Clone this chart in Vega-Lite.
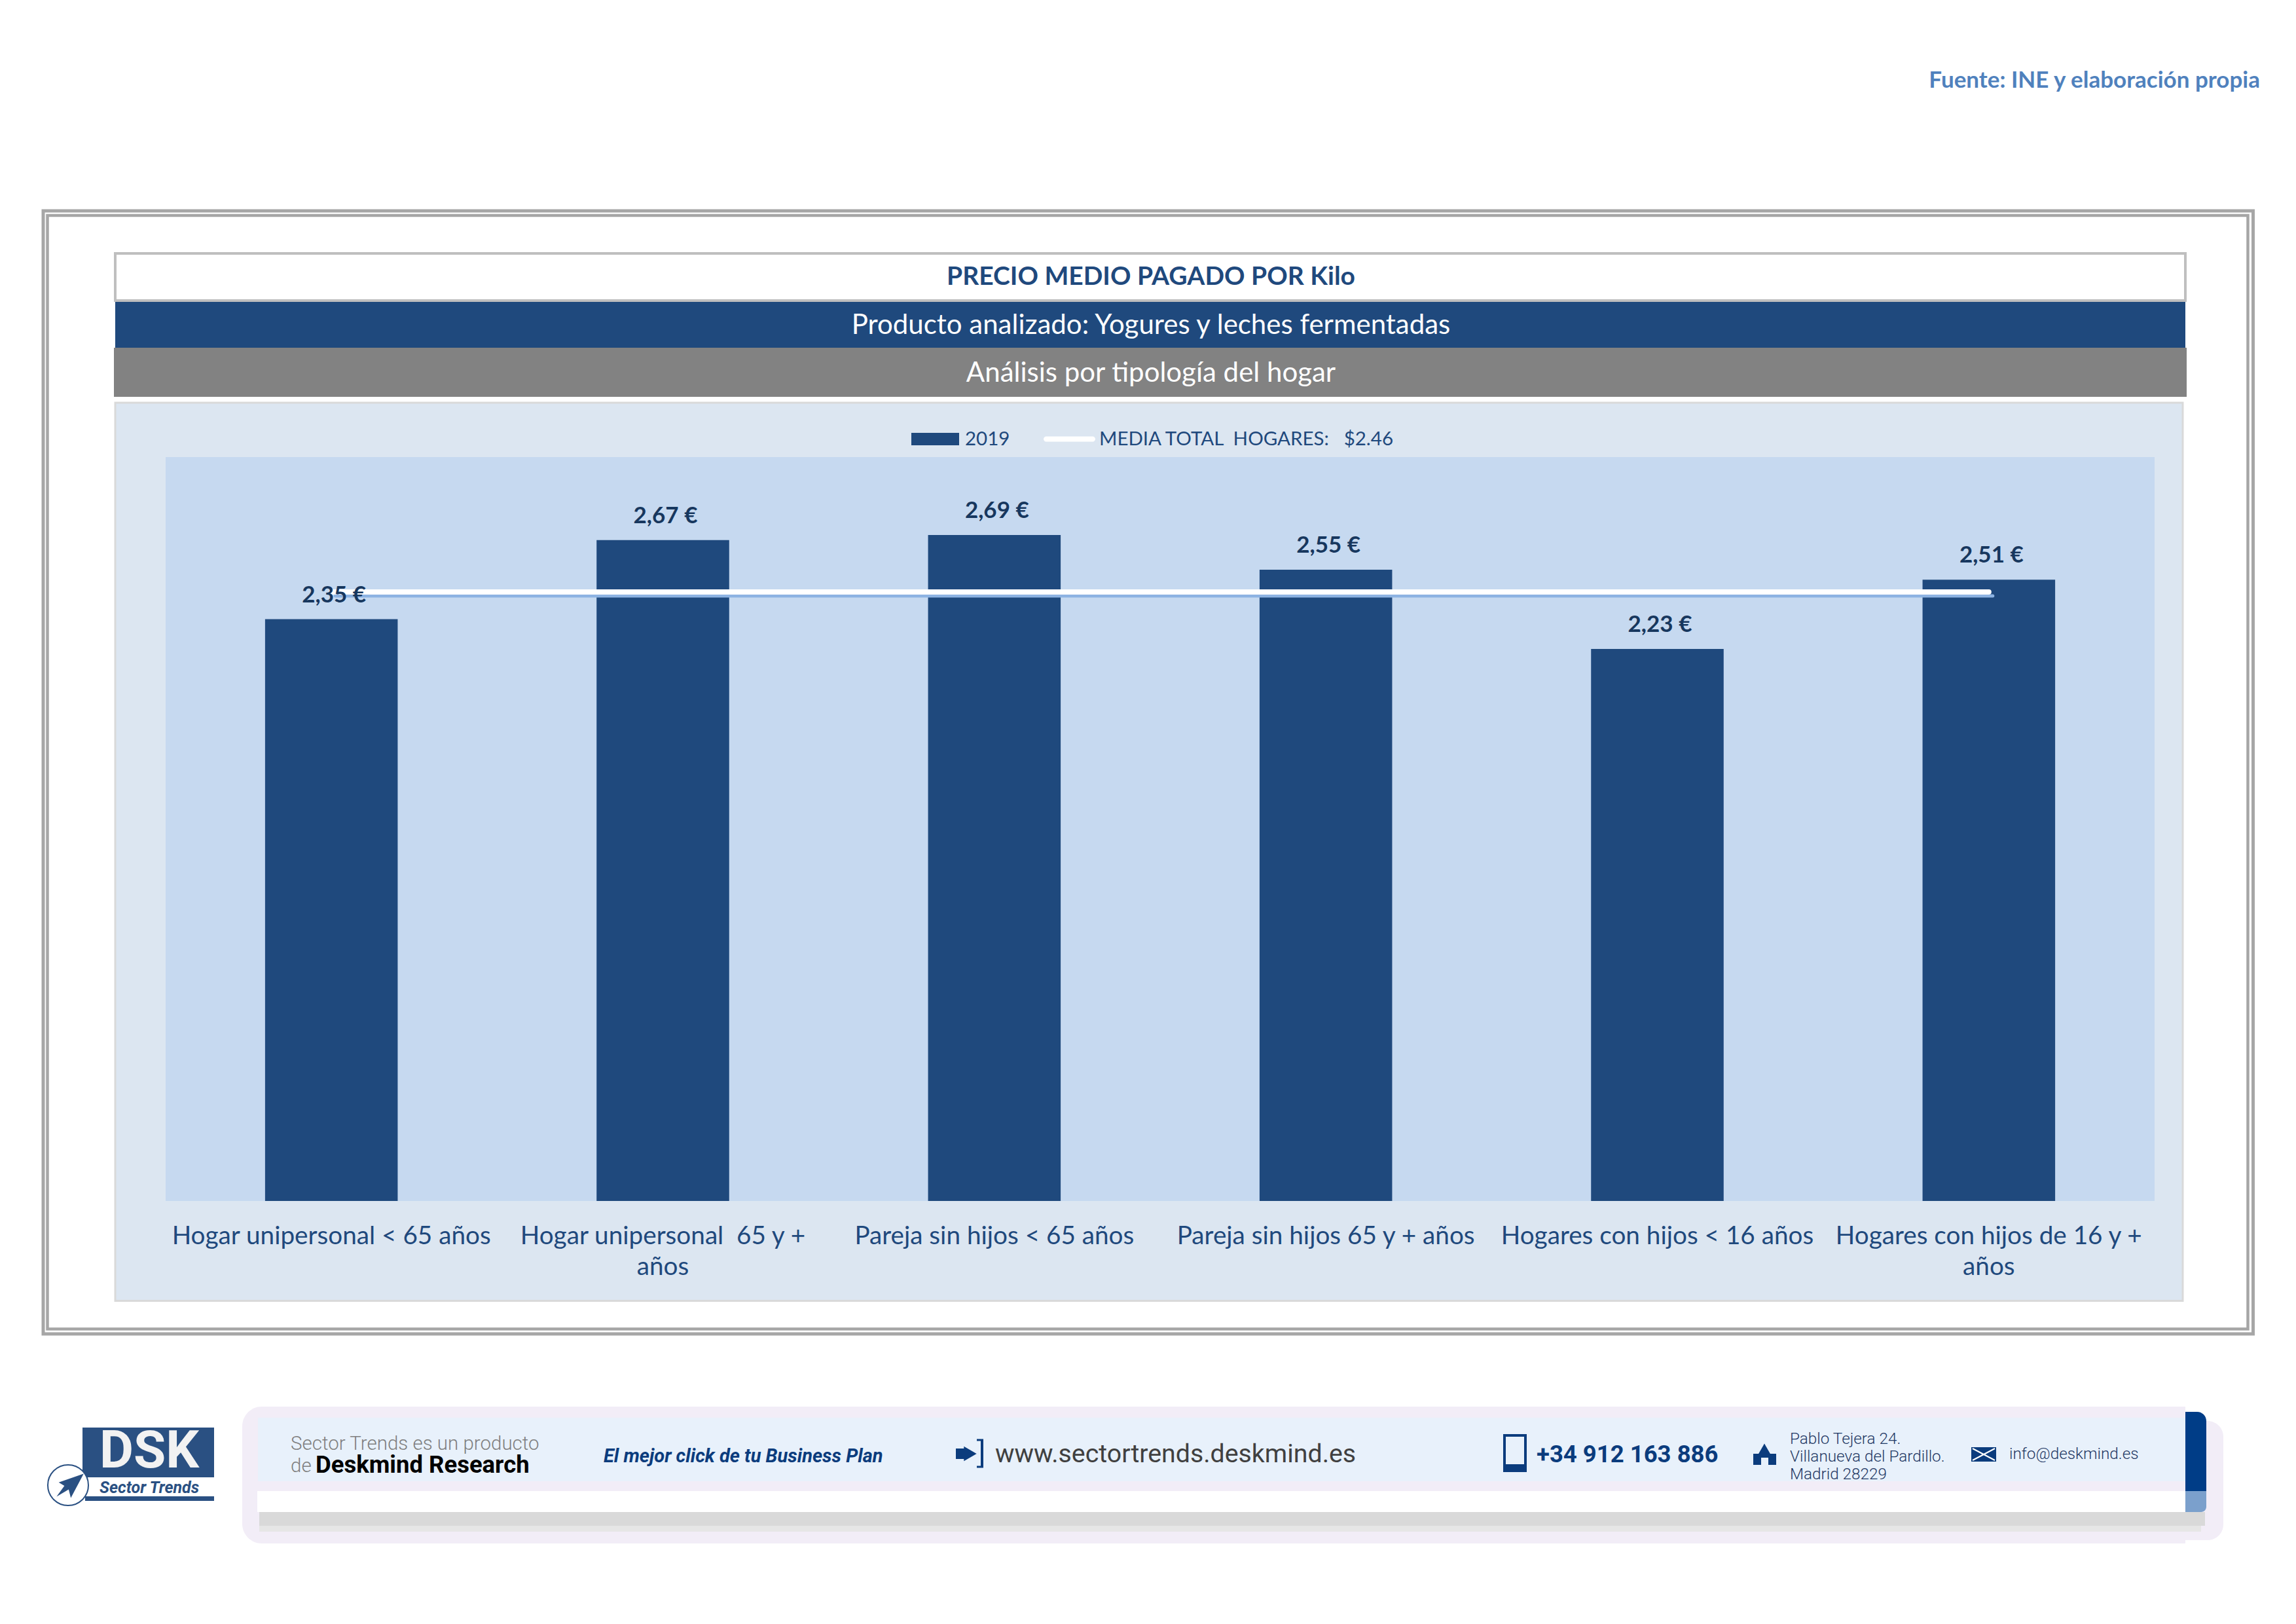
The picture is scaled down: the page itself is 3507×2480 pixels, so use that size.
{
"$schema":"https://vega.github.io/schema/vega-lite/v6.json",
"width":3038,"height":1136,
"autosize":{"type":"none"},
"padding":{"left":253,"top":698,"right":216,"bottom":646},
"background":"#ffffff",
"config":{"view":{"stroke":null}},
"resolve":{"scale":{"x":"independent","y":"independent"}},
"data":{"values":[
{"hogar":"Hogar unipersonal < 65 años","precio":2.35,"etiqueta":"2,35 €","serie":"2019","media":2.46,"serie_media":"MEDIA TOTAL\u00a0\u00a0HOGARES:\u00a0\u00a0\u00a0$2.46"},
{"hogar":"Hogar unipersonal\u00a0\u00a065 y + años","precio":2.67,"etiqueta":"2,67 €","serie":"2019","media":2.46,"serie_media":"MEDIA TOTAL\u00a0\u00a0HOGARES:\u00a0\u00a0\u00a0$2.46"},
{"hogar":"Pareja sin hijos < 65 años","precio":2.69,"etiqueta":"2,69 €","serie":"2019","media":2.46,"serie_media":"MEDIA TOTAL\u00a0\u00a0HOGARES:\u00a0\u00a0\u00a0$2.46"},
{"hogar":"Pareja sin hijos 65 y + años","precio":2.55,"etiqueta":"2,55 €","serie":"2019","media":2.46,"serie_media":"MEDIA TOTAL\u00a0\u00a0HOGARES:\u00a0\u00a0\u00a0$2.46"},
{"hogar":"Hogares con hijos < 16 años","precio":2.23,"etiqueta":"2,23 €","serie":"2019","media":2.46,"serie_media":"MEDIA TOTAL\u00a0\u00a0HOGARES:\u00a0\u00a0\u00a0$2.46"},
{"hogar":"Hogares con hijos de 16 y + años","precio":2.51,"etiqueta":"2,51 €","serie":"2019","media":2.46,"serie_media":"MEDIA TOTAL\u00a0\u00a0HOGARES:\u00a0\u00a0\u00a0$2.46"}
]},
"layer":[
{"data":{"values":[{}]},
"layer":[
{"mark":{"type":"text","text":"Fuente: INE y elaboración propia","align":"right","baseline":"middle","font":"Lato","fontWeight":"bold","fontSize":35,"color":"#4f81bd"},"encoding":{"x":{"datum":3452,"type":"quantitative","axis":null,"scale":{"domain":[0,3507],"range":[-253,3254],"nice":false,"zero":false}},"y":{"datum":123,"type":"quantitative","axis":null,"scale":{"domain":[0,2480],"range":[-698,1782],"nice":false,"zero":false}}}},
{"mark":{"type":"rect","fill":null,"stroke":"#a6a6a6","strokeWidth":5},"encoding":{"x":{"datum":66,"type":"quantitative"},"x2":{"datum":3441.5},"y":{"datum":322,"type":"quantitative"},"y2":{"datum":2037}}},
{"mark":{"type":"rect","fill":null,"stroke":"#a6a6a6","strokeWidth":4.5},"encoding":{"x":{"datum":72.5,"type":"quantitative"},"x2":{"datum":3433.5},"y":{"datum":329,"type":"quantitative"},"y2":{"datum":2029.5}}},
{"mark":{"type":"rect","fill":"#ffffff","stroke":"#bfbfbf","strokeWidth":4},"encoding":{"x":{"datum":176,"type":"quantitative"},"x2":{"datum":3338},"y":{"datum":387,"type":"quantitative"},"y2":{"datum":459}}},
{"mark":{"type":"rect","fill":"#1f497d"},"encoding":{"x":{"datum":176,"type":"quantitative"},"x2":{"datum":3338},"y":{"datum":461,"type":"quantitative"},"y2":{"datum":531}}},
{"mark":{"type":"rect","fill":"#828282"},"encoding":{"x":{"datum":174,"type":"quantitative"},"x2":{"datum":3340},"y":{"datum":531,"type":"quantitative"},"y2":{"datum":606}}},
{"mark":{"type":"rect","fill":"#dce6f1","stroke":"#d9d9d9","strokeWidth":3},"encoding":{"x":{"datum":176,"type":"quantitative"},"x2":{"datum":3334},"y":{"datum":615,"type":"quantitative"},"y2":{"datum":1986.5}}},
{"mark":{"type":"rect","fill":"#c6d9f0"},"encoding":{"x":{"datum":253,"type":"quantitative"},"x2":{"datum":3291},"y":{"datum":698,"type":"quantitative"},"y2":{"datum":1834}}},
{"mark":{"type":"text","text":"PRECIO MEDIO PAGADO POR Kilo","align":"center","baseline":"middle","font":"Lato","fontWeight":"bold","fontSize":39,"color":"#1f497d"},"encoding":{"x":{"datum":1758,"type":"quantitative"},"y":{"datum":423,"type":"quantitative"}}},
{"mark":{"type":"text","text":"Producto analizado: Yogures y leches fermentadas","align":"center","baseline":"middle","font":"Lato","fontSize":42,"color":"#ffffff"},"encoding":{"x":{"datum":1758,"type":"quantitative"},"y":{"datum":497,"type":"quantitative"}}},
{"mark":{"type":"text","text":"Análisis por tipología del hogar","align":"center","baseline":"middle","font":"Lato","fontSize":42,"color":"#ffffff"},"encoding":{"x":{"datum":1758,"type":"quantitative"},"y":{"datum":570,"type":"quantitative"}}},

{"mark":{"type":"rect","fill":"#f2edf7","cornerRadius":24},"encoding":{"x":{"datum":3300,"type":"quantitative"},"x2":{"datum":3396},"y":{"datum":2170,"type":"quantitative"},"y2":{"datum":2352}}},
{"mark":{"type":"rect","fill":"#f2edf7","cornerRadiusTopLeft":30,"cornerRadiusBottomLeft":30},"encoding":{"x":{"datum":370,"type":"quantitative"},"x2":{"datum":3338},"y":{"datum":2148,"type":"quantitative"},"y2":{"datum":2357}}},
{"mark":{"type":"rect","fill":"#e8f1fb"},"encoding":{"x":{"datum":394,"type":"quantitative"},"x2":{"datum":3338},"y":{"datum":2165,"type":"quantitative"},"y2":{"datum":2262}}},
{"mark":{"type":"rect","fill":"#e6e6e6"},"encoding":{"x":{"datum":396,"type":"quantitative"},"x2":{"datum":3362},"y":{"datum":2320,"type":"quantitative"},"y2":{"datum":2339}}},
{"mark":{"type":"rect","fill":"#d9d9d9"},"encoding":{"x":{"datum":396,"type":"quantitative"},"x2":{"datum":3368},"y":{"datum":2309,"type":"quantitative"},"y2":{"datum":2330}}},
{"mark":{"type":"rect","fill":"#ffffff"},"encoding":{"x":{"datum":393,"type":"quantitative"},"x2":{"datum":3338},"y":{"datum":2277,"type":"quantitative"},"y2":{"datum":2309}}},
{"mark":{"type":"rect","fill":"#7ba0cc","cornerRadiusBottomRight":8},"encoding":{"x":{"datum":3338,"type":"quantitative"},"x2":{"datum":3370},"y":{"datum":2277,"type":"quantitative"},"y2":{"datum":2309}}},
{"mark":{"type":"rect","fill":"#003d87","cornerRadiusTopRight":14},"encoding":{"x":{"datum":3338,"type":"quantitative"},"x2":{"datum":3370},"y":{"datum":2156,"type":"quantitative"},"y2":{"datum":2277}}},

{"mark":{"type":"text","text":"Sector Trends es un producto","align":"left","baseline":"middle","font":"Roboto","fontWeight":300,"fontSize":29.5,"color":"#7f7f7f"},"encoding":{"x":{"datum":444,"type":"quantitative"},"y":{"datum":2205,"type":"quantitative"}}},
{"mark":{"type":"text","text":"de","align":"left","baseline":"middle","font":"Roboto","fontWeight":300,"fontSize":29.5,"color":"#7f7f7f"},"encoding":{"x":{"datum":444,"type":"quantitative"},"y":{"datum":2239,"type":"quantitative"}}},
{"mark":{"type":"text","text":"Deskmind Research","align":"left","baseline":"middle","font":"Roboto","fontWeight":"bold","fontSize":36.5,"color":"#000000"},"encoding":{"x":{"datum":482,"type":"quantitative"},"y":{"datum":2238,"type":"quantitative"}}},
{"mark":{"type":"text","text":"El mejor click de tu Business Plan","align":"left","baseline":"middle","font":"Roboto","fontWeight":"bold","fontStyle":"italic","fontSize":29,"color":"#0b3c7d"},"encoding":{"x":{"datum":922,"type":"quantitative"},"y":{"datum":2224,"type":"quantitative"}}},
{"mark":{"type":"rect","fill":"#0b3c7d"},"encoding":{"x":{"datum":1460,"type":"quantitative"},"x2":{"datum":1478},"y":{"datum":2212,"type":"quantitative"},"y2":{"datum":2228}}},
{"mark":{"type":"point","shape":"triangle-right","filled":true,"size":500,"opacity":1,"color":"#0b3c7d"},"encoding":{"x":{"datum":1482,"type":"quantitative"},"y":{"datum":2220,"type":"quantitative"}}},
{"mark":{"type":"rule","color":"#0b3c7d","strokeWidth":4},"encoding":{"x":{"datum":1500,"type":"quantitative"},"y":{"datum":2199,"type":"quantitative"},"y2":{"datum":2240}}},
{"mark":{"type":"rule","color":"#0b3c7d","strokeWidth":3},"encoding":{"x":{"datum":1492,"type":"quantitative"},"x2":{"datum":1502},"y":{"datum":2199,"type":"quantitative"},"y2":{"datum":2199}}},
{"mark":{"type":"rule","color":"#0b3c7d","strokeWidth":3},"encoding":{"x":{"datum":1492,"type":"quantitative"},"x2":{"datum":1502},"y":{"datum":2240,"type":"quantitative"},"y2":{"datum":2240}}},
{"mark":{"type":"text","text":"www.sectortrends.deskmind.es","align":"left","baseline":"middle","font":"Roboto","fontSize":39.3,"color":"#404040"},"encoding":{"x":{"datum":1520,"type":"quantitative"},"y":{"datum":2221,"type":"quantitative"}}},
{"mark":{"type":"rect","fill":null,"stroke":"#0b3c7d","strokeWidth":4},"encoding":{"x":{"datum":2298,"type":"quantitative"},"x2":{"datum":2330},"y":{"datum":2192,"type":"quantitative"},"y2":{"datum":2246}}},
{"mark":{"type":"rect","fill":"#0b3c7d"},"encoding":{"x":{"datum":2296,"type":"quantitative"},"x2":{"datum":2332},"y":{"datum":2236,"type":"quantitative"},"y2":{"datum":2248}}},
{"mark":{"type":"text","text":"+34 912 163 886","align":"left","baseline":"middle","font":"Roboto","fontWeight":"bold","fontSize":36.5,"color":"#0b3c7d"},"encoding":{"x":{"datum":2347,"type":"quantitative"},"y":{"datum":2222,"type":"quantitative"}}},
{"mark":{"type":"rect","fill":"#0b3c7d"},"encoding":{"x":{"datum":2678,"type":"quantitative"},"x2":{"datum":2713,"type":"quantitative"},"y":{"datum":2220,"type":"quantitative"},"y2":{"datum":2237}}},
{"mark":{"type":"point","shape":"triangle-up","filled":true,"size":700,"opacity":1,"color":"#0b3c7d"},"encoding":{"x":{"datum":2695,"type":"quantitative"},"y":{"datum":2216,"type":"quantitative"}}},
{"mark":{"type":"rect","fill":"#e8f1fb"},"encoding":{"x":{"datum":2690,"type":"quantitative"},"x2":{"datum":2701},"y":{"datum":2226,"type":"quantitative"},"y2":{"datum":2237}}},
{"mark":{"type":"text","text":"Pablo Tejera 24.","align":"left","baseline":"middle","font":"Roboto","fontWeight":300,"fontSize":24.3,"color":"#1f3864"},"encoding":{"x":{"datum":2734,"type":"quantitative"},"y":{"datum":2198,"type":"quantitative"}}},
{"mark":{"type":"text","text":"Villanueva del Pardillo.","align":"left","baseline":"middle","font":"Roboto","fontWeight":300,"fontSize":24.3,"color":"#1f3864"},"encoding":{"x":{"datum":2734,"type":"quantitative"},"y":{"datum":2225,"type":"quantitative"}}},
{"mark":{"type":"text","text":"Madrid 28229","align":"left","baseline":"middle","font":"Roboto","fontWeight":300,"fontSize":24.3,"color":"#1f3864"},"encoding":{"x":{"datum":2734,"type":"quantitative"},"y":{"datum":2252,"type":"quantitative"}}},
{"mark":{"type":"rect","fill":"#0b3c7d"},"encoding":{"x":{"datum":3011,"type":"quantitative"},"x2":{"datum":3049},"y":{"datum":2210,"type":"quantitative"},"y2":{"datum":2232}}},
{"mark":{"type":"rule","color":"#ffffff","strokeWidth":2},"encoding":{"x":{"datum":3013,"type":"quantitative"},"x2":{"datum":3047},"y":{"datum":2212,"type":"quantitative"},"y2":{"datum":2230}}},
{"mark":{"type":"rule","color":"#ffffff","strokeWidth":2},"encoding":{"x":{"datum":3047,"type":"quantitative"},"x2":{"datum":3013},"y":{"datum":2212,"type":"quantitative"},"y2":{"datum":2230}}},
{"mark":{"type":"text","text":"info@deskmind.es","align":"left","baseline":"middle","font":"Roboto","fontWeight":300,"fontSize":24.3,"color":"#1f3864"},"encoding":{"x":{"datum":3069,"type":"quantitative"},"y":{"datum":2221,"type":"quantitative"}}},

{"mark":{"type":"rect","fill":"#2a5082"},"encoding":{"x":{"datum":126,"type":"quantitative"},"x2":{"datum":327},"y":{"datum":2180,"type":"quantitative"},"y2":{"datum":2256}}},
{"mark":{"type":"text","text":"DSK","align":"center","baseline":"middle","font":"Roboto","fontWeight":"bold","fontSize":80,"color":"#f2f2f2"},"encoding":{"x":{"datum":228,"type":"quantitative"},"y":{"datum":2217,"type":"quantitative"}}},
{"mark":{"type":"text","text":"Sector Trends","align":"left","baseline":"middle","font":"Roboto","fontWeight":"bold","fontStyle":"italic","fontSize":25,"color":"#2a5082"},"encoding":{"x":{"datum":152,"type":"quantitative"},"y":{"datum":2272,"type":"quantitative"}}},
{"mark":{"type":"rect","fill":"#2a5082"},"encoding":{"x":{"datum":130,"type":"quantitative"},"x2":{"datum":327},"y":{"datum":2285,"type":"quantitative"},"y2":{"datum":2292}}},
{"mark":{"type":"point","shape":"circle","filled":true,"size":3844,"opacity":1,"fill":"#ffffff","stroke":"#2a5082","strokeWidth":2},"encoding":{"x":{"datum":104,"type":"quantitative"},"y":{"datum":2268,"type":"quantitative"}}},
{"mark":{"type":"point","shape":"M1,-0.8 L0.1,0.9 L-0.05,0.3 L-0.9,0.8 L-0.35,0.05 L-0.75,-0.2 Z","filled":true,"size":1900,"opacity":1,"color":"#2a5082"},"encoding":{"x":{"datum":106,"type":"quantitative"},"y":{"datum":2268,"type":"quantitative"}}}
]},

{"layer":[
{"mark":{"type":"bar"},
"encoding":{
"x":{"field":"hogar","type":"nominal","sort":null,"title":null,"scale":{"type":"band","paddingInner":0.6,"paddingOuter":0.3},
"axis":{"orient":"bottom","zindex":1,"domain":false,"ticks":false,"labelAngle":0,"labelFont":"Lato","labelFontSize":38.7,"labelColor":"#1f497d","labelPadding":34,"labelLimit":520,"labelLineHeight":47,"labelExpr":"indexof(datum.label,' años')>24 ? [replace(datum.label,' años',''),'años'] : datum.label"}},
"y":{"field":"precio","type":"quantitative","axis":null,"scale":{"domain":[0,3.005],"nice":false}},
"color":{"field":"serie","type":"nominal","scale":{"domain":["2019","MEDIA TOTAL\u00a0\u00a0HOGARES:\u00a0\u00a0\u00a0$2.46"],"range":["#1f497d","#ffffff"]},
"legend":{"zindex":1,"orient":"none","legendX":1135,"legendY":-68,"direction":"horizontal","title":null,"symbolType":"M-0.924,-0.24H0.924V0.24H-0.924Z","symbolSize":6241,"labelFont":"Lato","labelFontSize":29.5,"labelColor":"#1f497d","labelLimit":700,"labelOffset":5,"columnPadding":50,"padding":0,
"encoding":{"symbols":{"shape":{"value":{"expr":"datum.value=='2019'?'M-0.924,-0.24H0.924V0.24H-0.924Z':'M-0.9,-0.1H0.9A0.1,0.1 0 0 1 0.9,0.1H-0.9A0.1,0.1 0 0 1 -0.9,-0.1Z'"}},"fill":{"value":{"expr":"datum.value=='2019'?'#1f497d':'#ffffff'"}},"fillOpacity":{"value":1},"strokeOpacity":{"value":0}}}}}
}}
]},

{"layer":[
{"mark":{"type":"line","stroke":"#8db3e2","strokeWidth":5,"strokeCap":"round"},
"encoding":{
"x":{"field":"hogar","type":"nominal","sort":null,"axis":null,"scale":{"type":"band","paddingInner":0.6,"paddingOuter":0.3,"range":[6,3044]}},
"y":{"field":"media","type":"quantitative","axis":null,"scale":{"domain":[0,3.005],"nice":false,"range":[1142,6]}}
}}
]},

{"layer":[
{"mark":{"type":"line","strokeWidth":8,"strokeCap":"round"},
"encoding":{
"x":{"field":"hogar","type":"nominal","sort":null,"axis":null,"scale":{"type":"band","paddingInner":0.6,"paddingOuter":0.3}},
"y":{"field":"media","type":"quantitative","axis":null,"scale":{"domain":[0,3.005],"nice":false}},
"color":{"field":"serie_media","type":"nominal"}
}},
{"mark":{"type":"text","font":"Lato","fontWeight":"bold","fontSize":35,"color":"#17375e","baseline":"middle","dy":-37,"dx":4},
"encoding":{
"x":{"field":"hogar","type":"nominal","sort":null,"axis":null,"scale":{"type":"band","paddingInner":0.6,"paddingOuter":0.3}},
"y":{"field":"precio","type":"quantitative","axis":null,"scale":{"domain":[0,3.005],"nice":false}},
"text":{"field":"etiqueta","type":"nominal"}
}}
]}
]
}
